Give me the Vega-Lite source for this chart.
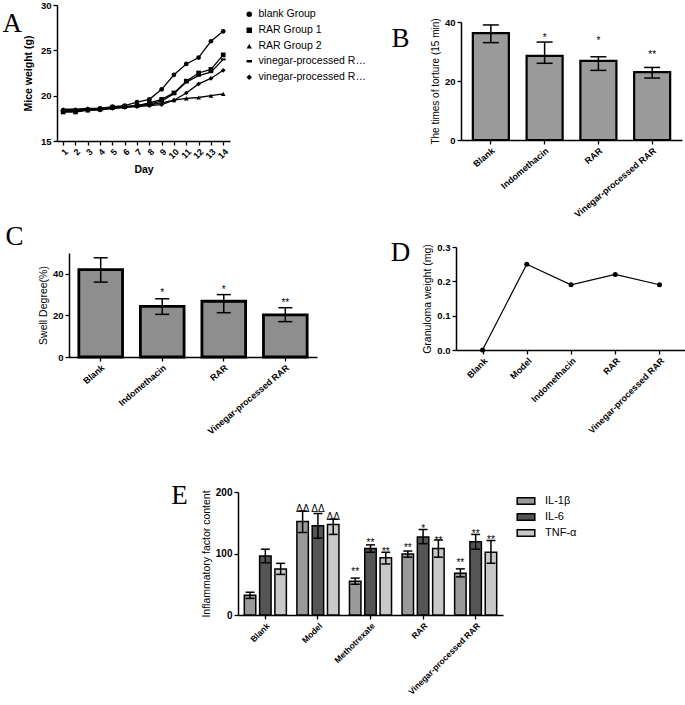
{
  "$schema": "https://vega.github.io/schema/vega-lite/v6.json",
  "padding": {"left": 0, "top": 0, "right": 0, "bottom": 0},
  "background": "white",
  "config": {
    "view": {"stroke": null},
    "font": "Liberation Sans",
    "axis": {"grid": false, "domainColor": "black", "domainWidth": 1.5, "tickColor": "black", "tickWidth": 1.3, "tickSize": 4, "labelFont": "Liberation Sans", "labelFontWeight": "bold", "labelFontSize": 9.5, "labelColor": "black", "labelPadding": 2, "labelOverlap": false, "titleFont": "Liberation Sans", "titleFontWeight": "normal", "titleFontSize": 10.5, "titleColor": "black", "titlePadding": 4},
    "title": {"font": "Liberation Serif", "fontSize": 27, "fontWeight": "normal", "color": "black"},
    "legend": {"labelFont": "Liberation Sans", "labelColor": "black", "title": null}
  },
  "align": "none",
  "center": false,
  "resolve": {"legend": {"shape": "independent", "fill": "independent"}},
  "spacing": 45,
  "vconcat": [
    {
      "align": "none",
      "center": false,
      "spacing": 0,
      "resolve": {"legend": {"shape": "independent", "fill": "independent"}},
      "vconcat": [
        {
          "align": "none",
          "spacing": 0,
          "resolve": {"legend": {"shape": "independent", "fill": "independent"}},
          "hconcat": [
            {"width": 2, "height": 1, "data": {"values": []}, "mark": "point", "encoding": {}},
            {
              "width": 173, "height": 136,
              "title": {"text": "A", "orient": "left", "anchor": "end", "angle": 0, "align": "right", "baseline": "top", "offset": -18, "dy": 6, "frame": "group"},
              "data": {"values": [
                {"g": "blank Group", "day": 1, "w": 18.4}, {"g": "blank Group", "day": 2, "w": 18.4}, {"g": "blank Group", "day": 3, "w": 18.5}, {"g": "blank Group", "day": 4, "w": 18.6}, {"g": "blank Group", "day": 5, "w": 18.8}, {"g": "blank Group", "day": 6, "w": 18.9}, {"g": "blank Group", "day": 7, "w": 19.3}, {"g": "blank Group", "day": 8, "w": 19.6}, {"g": "blank Group", "day": 9, "w": 20.7}, {"g": "blank Group", "day": 10, "w": 22.3}, {"g": "blank Group", "day": 11, "w": 23.5}, {"g": "blank Group", "day": 12, "w": 24.2}, {"g": "blank Group", "day": 13, "w": 26.0}, {"g": "blank Group", "day": 14, "w": 27.1},
                {"g": "RAR Group 1", "day": 1, "w": 18.2}, {"g": "RAR Group 1", "day": 2, "w": 18.2}, {"g": "RAR Group 1", "day": 3, "w": 18.4}, {"g": "RAR Group 1", "day": 4, "w": 18.5}, {"g": "RAR Group 1", "day": 5, "w": 18.7}, {"g": "RAR Group 1", "day": 6, "w": 18.8}, {"g": "RAR Group 1", "day": 7, "w": 18.9}, {"g": "RAR Group 1", "day": 8, "w": 19.2}, {"g": "RAR Group 1", "day": 9, "w": 19.6}, {"g": "RAR Group 1", "day": 10, "w": 20.3}, {"g": "RAR Group 1", "day": 11, "w": 21.6}, {"g": "RAR Group 1", "day": 12, "w": 22.5}, {"g": "RAR Group 1", "day": 13, "w": 22.9}, {"g": "RAR Group 1", "day": 14, "w": 24.5},
                {"g": "RAR Group 2", "day": 1, "w": 18.5}, {"g": "RAR Group 2", "day": 2, "w": 18.5}, {"g": "RAR Group 2", "day": 3, "w": 18.6}, {"g": "RAR Group 2", "day": 4, "w": 18.6}, {"g": "RAR Group 2", "day": 5, "w": 18.7}, {"g": "RAR Group 2", "day": 6, "w": 18.8}, {"g": "RAR Group 2", "day": 7, "w": 18.9}, {"g": "RAR Group 2", "day": 8, "w": 19.0}, {"g": "RAR Group 2", "day": 9, "w": 19.2}, {"g": "RAR Group 2", "day": 10, "w": 19.5}, {"g": "RAR Group 2", "day": 11, "w": 19.7}, {"g": "RAR Group 2", "day": 12, "w": 19.8}, {"g": "RAR Group 2", "day": 13, "w": 20.0}, {"g": "RAR Group 2", "day": 14, "w": 20.2},
                {"g": "vinegar-processed RAR Group 1", "day": 1, "w": 18.3}, {"g": "vinegar-processed RAR Group 1", "day": 2, "w": 18.3}, {"g": "vinegar-processed RAR Group 1", "day": 3, "w": 18.4}, {"g": "vinegar-processed RAR Group 1", "day": 4, "w": 18.5}, {"g": "vinegar-processed RAR Group 1", "day": 5, "w": 18.6}, {"g": "vinegar-processed RAR Group 1", "day": 6, "w": 18.7}, {"g": "vinegar-processed RAR Group 1", "day": 7, "w": 18.9}, {"g": "vinegar-processed RAR Group 1", "day": 8, "w": 19.1}, {"g": "vinegar-processed RAR Group 1", "day": 9, "w": 19.4}, {"g": "vinegar-processed RAR Group 1", "day": 10, "w": 20.2}, {"g": "vinegar-processed RAR Group 1", "day": 11, "w": 21.5}, {"g": "vinegar-processed RAR Group 1", "day": 12, "w": 22.2}, {"g": "vinegar-processed RAR Group 1", "day": 13, "w": 22.6}, {"g": "vinegar-processed RAR Group 1", "day": 14, "w": 24.0},
                {"g": "vinegar-processed RAR Group 2", "day": 1, "w": 18.3}, {"g": "vinegar-processed RAR Group 2", "day": 2, "w": 18.3}, {"g": "vinegar-processed RAR Group 2", "day": 3, "w": 18.4}, {"g": "vinegar-processed RAR Group 2", "day": 4, "w": 18.4}, {"g": "vinegar-processed RAR Group 2", "day": 5, "w": 18.6}, {"g": "vinegar-processed RAR Group 2", "day": 6, "w": 18.7}, {"g": "vinegar-processed RAR Group 2", "day": 7, "w": 18.8}, {"g": "vinegar-processed RAR Group 2", "day": 8, "w": 18.9}, {"g": "vinegar-processed RAR Group 2", "day": 9, "w": 19.0}, {"g": "vinegar-processed RAR Group 2", "day": 10, "w": 19.5}, {"g": "vinegar-processed RAR Group 2", "day": 11, "w": 20.3}, {"g": "vinegar-processed RAR Group 2", "day": 12, "w": 21.3}, {"g": "vinegar-processed RAR Group 2", "day": 13, "w": 21.9}, {"g": "vinegar-processed RAR Group 2", "day": 14, "w": 22.8}
              ]},
              "encoding": {
                "x": {"field": "day", "type": "quantitative", "scale": {"domain": [0.5, 14.55], "nice": false, "zero": false}, "axis": {"values": [1, 2, 3, 4, 5, 6, 7, 8, 9, 10, 11, 12, 13, 14], "labelAngle": -45, "labelFontSize": 9, "title": "Day", "titleFontWeight": "bold", "titleFontSize": 10.5}},
                "y": {"field": "w", "type": "quantitative", "scale": {"domain": [15, 30], "nice": false, "zero": false}, "axis": {"values": [15, 20, 25, 30], "title": "Mice weight (g)", "titleFontWeight": "bold", "titleFontSize": 10.5, "titlePadding": 7}}
              },
              "layer": [
                {"mark": {"type": "line", "color": "black", "strokeWidth": 1.3}, "encoding": {"detail": {"field": "g"}}},
                {"mark": {"type": "point", "filled": true, "color": "black", "opacity": 1, "size": 22},
                 "encoding": {"shape": {"field": "g", "type": "nominal", "sort": null,
                   "scale": {"domain": ["blank Group", "RAR Group 1", "RAR Group 2", "vinegar-processed RAR Group 1", "vinegar-processed RAR Group 2"], "range": ["circle", "square", "triangle-up", "M-1,-0.45H1V0.45H-1Z", "diamond"]},
                   "legend": {"orient": "right", "offset": 10, "padding": 4, "labelFontSize": 10.5, "symbolSize": 30, "symbolFillColor": "black", "symbolStrokeColor": "black", "rowPadding": 4, "labelLimit": 108}}}}
              ]
            },
            {"width": 21, "height": 1, "data": {"values": []}, "mark": "point", "encoding": {}},
            {
              "spacing": 0,
              "align": "none",
              "vconcat": [
                {"width": 10, "height": 12, "data": {"values": []}, "mark": "point", "encoding": {}},
                {
                  "width": 221, "height": 118,
                  "title": {"text": "B", "orient": "left", "anchor": "end", "angle": 0, "align": "right", "baseline": "top", "offset": 3, "dy": 4, "frame": "group"},
                  "data": {"values": [
                    {"g": "Blank", "v": 36.2, "lo": 33.0, "hi": 39.0, "sig": "", "sy": 0},
                    {"g": "Indomethacin", "v": 28.5, "lo": 26.0, "hi": 33.2, "sig": "*", "sy": 35.5},
                    {"g": "RAR", "v": 26.8, "lo": 23.6, "hi": 28.2, "sig": "*", "sy": 34.5},
                    {"g": "Vinegar-processed RAR", "v": 23.0, "lo": 21.0, "hi": 24.6, "sig": "**", "sy": 30.0}
                  ]},
                  "encoding": {"x": {"field": "g", "type": "nominal", "sort": null, "scale": {"paddingInner": 0.33, "paddingOuter": 0.22}, "axis": {"labelAngle": -40, "title": null, "labelFontSize": 9}}},
                  "layer": [
                    {"mark": {"type": "bar", "fill": "#9a9a9a", "stroke": "black", "strokeWidth": 2.2}, "encoding": {"y": {"field": "v", "type": "quantitative", "scale": {"domain": [0, 40], "nice": false}, "axis": {"values": [0, 10, 20, 30, 40], "title": "The times of torture (15 min)", "titleFontSize": 10}}}},
                    {"mark": {"type": "rule", "color": "black", "strokeWidth": 1.5}, "encoding": {"y": {"field": "lo", "type": "quantitative"}, "y2": {"field": "hi"}}},
                    {"mark": {"type": "tick", "color": "black", "opacity": 1, "thickness": 1.5, "size": 16}, "encoding": {"y": {"field": "lo", "type": "quantitative"}}},
                    {"mark": {"type": "tick", "color": "black", "opacity": 1, "thickness": 1.5, "size": 16}, "encoding": {"y": {"field": "hi", "type": "quantitative"}}},
                    {"mark": {"type": "text", "fontSize": 10, "color": "black", "baseline": "middle", "dy": 3}, "encoding": {"y": {"field": "sy", "type": "quantitative"}, "text": {"field": "sig"}}}
                  ]
                }
              ]
            }
          ]
        },
        {
          "align": "none",
          "spacing": 0,
          "hconcat": [
            {"width": 5, "height": 1, "data": {"values": []}, "mark": "point", "encoding": {}},
            {
              "spacing": 0,
              "align": "none",
              "vconcat": [
                {"width": 10, "height": 3, "data": {"values": []}, "mark": "point", "encoding": {}},
                {
                  "width": 248, "height": 104,
                  "title": {"text": "C", "orient": "left", "anchor": "end", "angle": 0, "align": "right", "baseline": "top", "offset": -3, "dy": -29, "frame": "group"},
                  "data": {"values": [
                    {"g": "Blank", "v": 42.0, "lo": 36.0, "hi": 47.7, "sig": "", "sy": 0},
                    {"g": "Indomethacin", "v": 24.3, "lo": 20.5, "hi": 28.0, "sig": "*", "sy": 32.0},
                    {"g": "RAR", "v": 26.8, "lo": 21.3, "hi": 30.0, "sig": "*", "sy": 33.8},
                    {"g": "Vinegar-processed RAR", "v": 20.3, "lo": 17.0, "hi": 23.7, "sig": "**", "sy": 27.3}
                  ]},
                  "encoding": {"x": {"field": "g", "type": "nominal", "sort": null, "scale": {"paddingInner": 0.29, "paddingOuter": 0.16}, "axis": {"labelAngle": -40, "title": null, "labelFontSize": 9}}},
                  "layer": [
                    {"mark": {"type": "bar", "fill": "#8e8e8e", "stroke": "black", "strokeWidth": 2.8}, "encoding": {"y": {"field": "v", "type": "quantitative", "scale": {"domain": [0, 50], "nice": false}, "axis": {"values": [0, 10, 20, 30, 40, 50], "title": "Swell Degree(%)", "titleFontSize": 10.5}}}},
                    {"mark": {"type": "rule", "color": "black", "strokeWidth": 1.5}, "encoding": {"y": {"field": "lo", "type": "quantitative"}, "y2": {"field": "hi"}}},
                    {"mark": {"type": "tick", "color": "black", "opacity": 1, "thickness": 1.5, "size": 14}, "encoding": {"y": {"field": "lo", "type": "quantitative"}}},
                    {"mark": {"type": "tick", "color": "black", "opacity": 1, "thickness": 1.5, "size": 14}, "encoding": {"y": {"field": "hi", "type": "quantitative"}}},
                    {"mark": {"type": "text", "fontSize": 10, "color": "black", "baseline": "middle", "dy": 3}, "encoding": {"y": {"field": "sy", "type": "quantitative"}, "text": {"field": "sig"}}}
                  ]
                }
              ]
            },
            {"width": 73, "height": 1, "data": {"values": []}, "mark": "point", "encoding": {}},
            {
              "spacing": 0,
              "align": "none",
              "vconcat": [
                {"width": 10, "height": 19, "data": {"values": []}, "mark": "point", "encoding": {}},
                {
                  "width": 230, "height": 103,
                  "title": {"text": "D", "orient": "left", "anchor": "end", "angle": 0, "align": "right", "baseline": "top", "offset": -7, "dy": -7, "frame": "group"},
                  "data": {"values": [
                    {"g": "Blank", "v": 0.0},
                    {"g": "Model", "v": 0.25},
                    {"g": "Indomethacin", "v": 0.19},
                    {"g": "RAR", "v": 0.22},
                    {"g": "Vinegar-processed RAR", "v": 0.19}
                  ]},
                  "encoding": {
                    "x": {"field": "g", "type": "ordinal", "sort": null, "scale": {"type": "point", "padding": 0.6}, "axis": {"labelAngle": -45, "title": null, "labelFontSize": 9}},
                    "y": {"field": "v", "type": "quantitative", "scale": {"domain": [0, 0.3], "nice": false}, "axis": {"values": [0, 0.1, 0.2, 0.3], "format": ".1f", "title": "Granuloma weight (mg)", "titleFontSize": 10.5}}
                  },
                  "layer": [
                    {"mark": {"type": "line", "color": "black", "strokeWidth": 1.2}},
                    {"mark": {"type": "point", "filled": true, "color": "black", "opacity": 1, "size": 25}}
                  ]
                }
              ]
            }
          ]
        }
      ]
    },
    {
      "spacing": 0,
      "align": "none",
      "resolve": {"legend": {"fill": "independent"}},
      "hconcat": [
        {"width": 171, "height": 1, "data": {"values": []}, "mark": "point", "encoding": {}},
        {
          "width": 265, "height": 123,
          "title": {"text": "E", "orient": "left", "anchor": "end", "angle": 0, "align": "right", "baseline": "top", "offset": -3, "dy": -9, "frame": "group"},
          "data": {"values": [
            {"g": "Blank", "f": "IL-1β", "v": 32, "lo": 27, "hi": 37, "sig": "", "sy": 0},
            {"g": "Blank", "f": "IL-6", "v": 96, "lo": 85, "hi": 107, "sig": "", "sy": 0},
            {"g": "Blank", "f": "TNF-α", "v": 75, "lo": 66, "hi": 84, "sig": "", "sy": 0},
            {"g": "Model", "f": "IL-1β", "v": 152, "lo": 134, "hi": 169, "sig": "ΔΔ", "sy": 178},
            {"g": "Model", "f": "IL-6", "v": 145, "lo": 125, "hi": 165, "sig": "ΔΔ", "sy": 178},
            {"g": "Model", "f": "TNF-α", "v": 147, "lo": 131, "hi": 156, "sig": "ΔΔ", "sy": 164},
            {"g": "Methotrexate", "f": "IL-1β", "v": 55, "lo": 50, "hi": 60, "sig": "**", "sy": 74},
            {"g": "Methotrexate", "f": "IL-6", "v": 108, "lo": 102, "hi": 114, "sig": "**", "sy": 122},
            {"g": "Methotrexate", "f": "TNF-α", "v": 93, "lo": 83, "hi": 102, "sig": "**", "sy": 108},
            {"g": "RAR", "f": "IL-1β", "v": 99, "lo": 94, "hi": 104, "sig": "**", "sy": 114},
            {"g": "RAR", "f": "IL-6", "v": 127, "lo": 116, "hi": 139, "sig": "*", "sy": 144},
            {"g": "RAR", "f": "TNF-α", "v": 108, "lo": 94, "hi": 122, "sig": "**", "sy": 126},
            {"g": "Vinegar-processed RAR", "f": "IL-1β", "v": 68, "lo": 62, "hi": 75, "sig": "**", "sy": 89},
            {"g": "Vinegar-processed RAR", "f": "IL-6", "v": 119, "lo": 107, "hi": 131, "sig": "**", "sy": 136},
            {"g": "Vinegar-processed RAR", "f": "TNF-α", "v": 102, "lo": 84, "hi": 121, "sig": "**", "sy": 127}
          ]},
          "encoding": {
            "x": {"field": "g", "type": "nominal", "sort": null, "scale": {"paddingInner": 0.2, "paddingOuter": 0.12}, "axis": {"labelAngle": -45, "title": null, "labelFontSize": 8.5}},
            "xOffset": {"field": "f", "type": "nominal", "sort": null, "scale": {"paddingInner": 0.25}}
          },
          "layer": [
            {"mark": {"type": "bar", "stroke": "black", "strokeWidth": 1.5},
             "encoding": {
               "y": {"field": "v", "type": "quantitative", "scale": {"domain": [0, 200], "nice": false}, "axis": {"values": [0, 50, 100, 150, 200], "title": "Inflammatory factor content", "titleFontSize": 10.5, "labelFontSize": 10}},
               "fill": {"field": "f", "type": "nominal", "sort": null, "scale": {"domain": ["IL-1β", "IL-6", "TNF-α"], "range": ["#9a9a9a", "#555555", "#c8c8c8"]},
                 "legend": {"orient": "right", "offset": 14, "padding": 0, "symbolType": "M-1.1,-0.42H1.1V0.42H-1.1Z", "symbolSize": 256, "symbolStrokeColor": "black", "symbolStrokeWidth": 1.5, "labelFontSize": 11, "rowPadding": 0, "labelOffset": 10}}
             }},
            {"mark": {"type": "rule", "color": "black", "strokeWidth": 1.5}, "encoding": {"y": {"field": "lo", "type": "quantitative"}, "y2": {"field": "hi"}}},
            {"mark": {"type": "tick", "color": "black", "opacity": 1, "thickness": 1.5, "size": 9}, "encoding": {"y": {"field": "lo", "type": "quantitative"}}},
            {"mark": {"type": "tick", "color": "black", "opacity": 1, "thickness": 1.5, "size": 9}, "encoding": {"y": {"field": "hi", "type": "quantitative"}}},
            {"mark": {"type": "text", "fontSize": 10, "color": "black", "baseline": "middle", "dy": 3}, "encoding": {"y": {"field": "sy", "type": "quantitative"}, "text": {"field": "sig"}}}
          ]
        }
      ]
    }
  ]
}
